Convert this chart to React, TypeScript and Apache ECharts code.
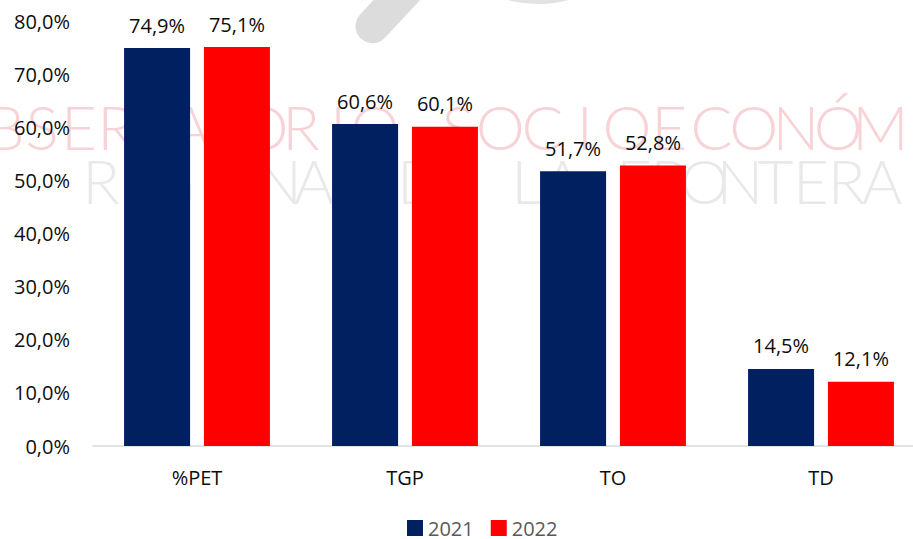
import React, { useEffect, useRef } from "react";
import * as echarts from "echarts";

const categories = ["%PET", "TGP", "TO", "TD"];
const seriesNames = ["2021", "2022"];
const values2021 = [74.9, 60.6, 51.7, 14.5];
const values2022 = [75.1, 60.1, 52.8, 12.1];
const yTicks = { min: 0, max: 80, interval: 10 };
const watermarkWord1 = "OBSERVATORIO";
const watermarkWord2 = "SOCIOECONÓMICO";
const watermarkLine2 = "REGIONAL DE LA FRONTERA";

const FONT = "'Open Sans', 'Noto Sans', sans-serif";
const fmt = (v: number) => v.toFixed(1).replace(".", ",") + "%";

function letters(text: string, x0: number, pitch: number, y: number, size: number, color: string) {
  return text.split("").map((ch, i) => ({
    type: "text",
    z: -10,
    silent: true,
    x: x0 + i * pitch,
    y,
    style: {
      text: ch,
      fill: color,
      font: `300 ${size}px Lato, 'DejaVu Sans', sans-serif`,
      textAlign: "center",
      textVerticalAlign: "middle",
    },
  }));
}

export default function App() {
  const ref = useRef<HTMLDivElement>(null);
  useEffect(() => {
    if (!ref.current) return;
    const chart = echarts.init(ref.current, undefined, { renderer: "svg" });
    const pink = "#f7d2d7";
    const grayW = "#e9e9e9";
    chart.setOption({
      animation: false,
      backgroundColor: "#ffffff",
      graphic: [
        {
          type: "rect",
          z: -10,
          silent: true,
          x: 395,
          y: 2,
          originX: 0,
          originY: 0,
          rotation: -0.75,
          shape: { x: -17, y: -50, width: 34, height: 100, r: 17 },
          style: { fill: "#dcdcdc" },
        },
        {
          type: "ellipse",
          z: -10,
          silent: true,
          shape: { cx: 538, cy: -20, rx: 55, ry: 24 },
          style: { fill: "#e2e2e2" },
        },
        ...letters(watermarkWord1, -32, 37, 126, 62, pink),
        ...letters(watermarkWord2, 458, 42.25, 126, 62, pink),
        ...letters(watermarkLine2, 101, 35.5, 180, 62, grayW),
      ],
      legend: {
        data: seriesNames,
        left: 402,
        top: 513,
        itemWidth: 16,
        itemHeight: 16,
        itemGap: 17,
        icon: "rect",
        textStyle: { fontFamily: FONT, fontSize: 20, color: "#595959" },
      },
      grid: { left: 93, top: 21, width: 832, height: 425, containLabel: false },
      xAxis: {
        type: "category",
        data: categories,
        axisLine: { lineStyle: { color: "#d9d9d9", width: 1.5 } },
        axisTick: { show: false },
        axisLabel: { fontFamily: FONT, fontSize: 20, color: "#0d0d0d", margin: 21 },
      },
      yAxis: {
        type: "value",
        min: yTicks.min,
        max: yTicks.max,
        interval: yTicks.interval,
        splitLine: { show: false },
        axisLine: { show: false },
        axisTick: { show: false },
        axisLabel: {
          fontFamily: FONT,
          fontSize: 20,
          color: "#0d0d0d",
          margin: 23,
          formatter: (v: number) => fmt(v),
        },
      },
      series: [
        {
          name: seriesNames[0],
          type: "bar",
          data: values2021,
          barWidth: 66,
          barGap: "21%",
          itemStyle: { color: "#002060" },
          label: {
            show: true,
            position: "top",
            distance: 13,
            fontFamily: FONT,
            fontSize: 20,
            color: "#0d0d0d",
            formatter: (p: any) => fmt(p.value),
          },
        },
        {
          name: seriesNames[1],
          type: "bar",
          data: values2022,
          barWidth: 66,
          barGap: "21%",
          itemStyle: { color: "#ff0000" },
          label: {
            show: true,
            position: "top",
            distance: 13,
            fontFamily: FONT,
            fontSize: 20,
            color: "#0d0d0d",
            formatter: (p: any) => fmt(p.value),
          },
        },
      ],
    });
    return () => chart.dispose();
  }, []);
  return (
    <div style={{ width: 913, height: 539, position: "absolute", left: 0, top: 0, overflow: "hidden" }}>
      <div ref={ref} style={{ width: 926, height: 539 }} />
    </div>
  );
}
